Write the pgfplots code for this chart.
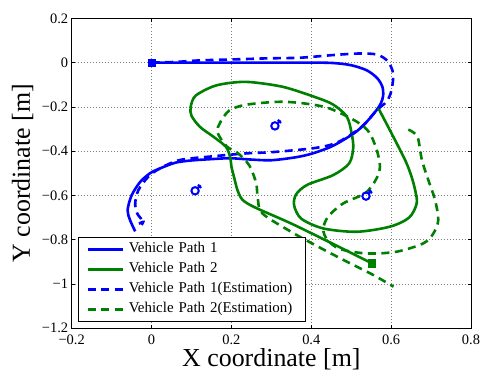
\documentclass[border=0pt]{standalone}
\usepackage{pgfplots}
\pgfplotsset{compat=1.18}
\usepackage{fontspec}
\setmainfont{Liberation Serif}
\definecolor{mblue}{rgb}{0,0,1}
\definecolor{mgreen}{rgb}{0,0.5,0}
\pgfdeclareplotmark{male}{%
  \pgfpathcircle{\pgfpointorigin}{\pgfplotmarksize}%
  \pgfpathmoveto{\pgfpointpolar{45}{\pgfplotmarksize}}%
  \pgfpathlineto{\pgfpointpolar{45}{2.1\pgfplotmarksize}}%
  \pgfpathmoveto{\pgfpointadd{\pgfpointpolar{45}{1.7\pgfplotmarksize}}{\pgfpointpolar{135}{0.6\pgfplotmarksize}}}%
  \pgfpathlineto{\pgfpointadd{\pgfpointpolar{45}{1.7\pgfplotmarksize}}{\pgfpointpolar{-45}{0.6\pgfplotmarksize}}}%
  \pgfusepathqstroke}
\begin{document}
\begin{tikzpicture}
\begin{axis}[
  at={(0,0)}, anchor=south west,
  scale only axis, width=399.3bp, height=310bp,
  xmin=-0.2, xmax=0.8, ymin=-1.2, ymax=0.2,
  xtick={-0.2,0,0.2,0.4,0.6,0.8},
  xticklabels={−0.2,0,0.2,0.4,0.6,0.8},
  ytick={-1.2,-1,-0.8,-0.6,-0.4,-0.2,0,0.2},
  yticklabels={−1.2,−1,−0.8,−0.6,−0.4,−0.2,0,0.2},
  tick align=inside, xtick pos=both, ytick pos=both,
  major tick length=3.5bp,
  tick style={black, line width=0.6bp},
  axis line style={black, line width=0.7bp},
  grid=major,
  major grid style={black!50, line width=0.6bp, dash pattern=on 0.8bp off 2.2bp},
  ticklabel style={font=\fontsize{14.5}{17}\selectfont},
  xticklabel style={inner ysep=6bp},
  yticklabel style={inner xsep=3.4bp},
  xlabel={X coordinate [m]},
  ylabel={Y coordinate [m]},
  label style={font=\fontsize{26}{30}\selectfont},
  xlabel style={at={(axis description cs:0.5,-0.1234)}, anchor=base},
  ylabel style={at={(axis description cs:-0.105,0.5)}, anchor=base, rotate=0},
  legend style={at={(axis description cs:0.0166,0.0213)}, anchor=south west,
    fill=white,
    font=\fontsize{15}{17}\selectfont,
    inner xsep=7.7bp, inner ysep=4.5bp, row sep=5bp,
    nodes={inner sep=0pt, text height=11bp, text depth=4bp},
    /tikz/every odd column/.append style={column sep=4.3bp},
    /tikz/every even column/.append style={text width=168.9bp}},
  legend cell align=left,
  legend image code/.code={\draw[#1] (0bp,0bp) -- (35.7bp,0bp);},
]
% Vehicle Path 1
\addplot[color=mblue, line width=2.6bp, smooth] coordinates {
(0,0) (0.1,0) (0.2,0) (0.3,0) (0.4,0) (0.455,-0.002) (0.5,-0.012) (0.539,-0.035) (0.565,-0.07) (0.578,-0.109) (0.58,-0.15) (0.574,-0.185) (0.562,-0.218) (0.54,-0.265) (0.514,-0.31) (0.48,-0.35) (0.447,-0.382) (0.40,-0.412) (0.36,-0.428) (0.30,-0.441) (0.25,-0.438) (0.197,-0.432) (0.15,-0.436) (0.10,-0.442) (0.06,-0.452) (0.021,-0.478) (-0.004,-0.5) (-0.029,-0.54) (-0.05,-0.6) (-0.06,-0.666) (-0.054,-0.711) (-0.041,-0.762)
};
\addlegendentry{Vehicle Path 1}
% Vehicle Path 2
\addplot[color=mgreen, line width=2.6bp, smooth] coordinates {
(0.551,-0.906) (0.45,-0.815) (0.35,-0.727) (0.26,-0.655) (0.228,-0.62) (0.215,-0.575) (0.207,-0.52) (0.2,-0.47) (0.197,-0.428) (0.186,-0.38) (0.155,-0.335) (0.121,-0.29) (0.1,-0.24) (0.098,-0.2) (0.11,-0.15) (0.155,-0.107) (0.2,-0.091) (0.247,-0.088) (0.33,-0.11) (0.413,-0.158) (0.455,-0.19) (0.489,-0.244) (0.501,-0.319) (0.505,-0.385) (0.495,-0.455) (0.455,-0.508) (0.39,-0.552) (0.362,-0.595) (0.357,-0.645) (0.375,-0.705) (0.43,-0.749) (0.514,-0.764) (0.597,-0.741) (0.645,-0.7) (0.664,-0.636) (0.66,-0.575) (0.651,-0.515) (0.637,-0.448) (0.606,-0.337) (0.568,-0.206)
};
\addlegendentry{Vehicle Path 2}
% Vehicle Path 1 (Estimation)
\addplot[color=mblue, line width=2.6bp, dash pattern=on 8bp off 5.5bp, smooth] coordinates {
(0,0) (0.06,0.003) (0.122,0.01) (0.2,0.014) (0.288,0.019) (0.372,0.022) (0.455,0.034) (0.52,0.041) (0.565,0.036) (0.592,0.005) (0.605,-0.05) (0.601,-0.124) (0.589,-0.175) (0.562,-0.218) (0.53,-0.285) (0.48,-0.347) (0.447,-0.372) (0.40,-0.388) (0.305,-0.404) (0.238,-0.41) (0.155,-0.423) (0.071,-0.44) (0.021,-0.478) (-0.008,-0.515) (-0.033,-0.576) (-0.041,-0.636) (-0.036,-0.681) (-0.025,-0.71) (-0.032,-0.727) (-0.021,-0.72) (-0.03,-0.746)
};
\addlegendentry{Vehicle Path 1(Estimation)}
% Vehicle Path 2 (Estimation)
\addplot[color=mgreen, line width=2.6bp, dash pattern=on 8bp off 5.5bp, smooth] coordinates {
(0.643,-0.303) (0.653,-0.312) (0.667,-0.34) (0.677,-0.44) (0.693,-0.53) (0.71,-0.621) (0.718,-0.711) (0.706,-0.771) (0.681,-0.816) (0.614,-0.854) (0.539,-0.862) (0.472,-0.842) (0.44,-0.8) (0.43,-0.752) (0.442,-0.696) (0.48,-0.636) (0.535,-0.59) (0.562,-0.528) (0.572,-0.47) (0.564,-0.395) (0.545,-0.315) (0.514,-0.267) (0.447,-0.208) (0.389,-0.186) (0.322,-0.177) (0.238,-0.19) (0.195,-0.216) (0.172,-0.27) (0.165,-0.315) (0.188,-0.378) (0.217,-0.41) (0.245,-0.465) (0.262,-0.545) (0.266,-0.613) (0.278,-0.682) (0.355,-0.77) (0.422,-0.836) (0.489,-0.899) (0.555,-0.959) (0.606,-1.012)
};
\addlegendentry{Vehicle Path 2(Estimation)}
% start squares
\addplot[forget plot, only marks, mark=square*, mark size=3.8bp, mblue] coordinates {(0,0)};
\addplot[forget plot, only marks, mark=square*, mark size=3.8bp, mgreen] coordinates {(0.551,-0.906)};
% landmarks
\addplot[forget plot, only marks, mark=male, mark size=3.7bp, mblue, line width=2bp] coordinates {(0.309,-0.286) (0.109,-0.579) (0.537,-0.603)};
\end{axis}
\pgfresetboundingbox
\useasboundingbox (-71.7bp,-42.7bp) rectangle (410.3bp,328.3bp);
\end{tikzpicture}
\end{document}
